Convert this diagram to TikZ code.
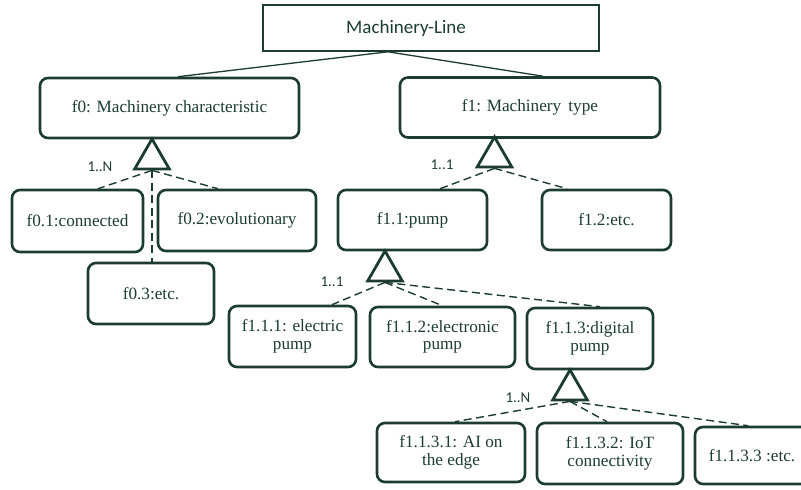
\documentclass[tikz,border=0pt]{standalone}
\usepackage{fontspec}
\setmainfont{Liberation Serif}
\newfontfamily\calfont{Carlito}
\usetikzlibrary{shapes.geometric}
\definecolor{dkgreen}{RGB}{28,60,50}
\begin{document}
\begin{tikzpicture}[x=1pt, y=-1pt,
   every node/.style={text=dkgreen},
   root/.style={draw=dkgreen, line width=1.6pt, minimum width=336pt, minimum height=46pt,
                font=\calfont\fontsize{19}{21}\selectfont},
   feat/.style={draw=dkgreen, line width=2.6pt, rounded corners=8pt, align=center,
                font=\fontsize{17.2}{17.5}\selectfont, minimum height=60pt, inner sep=0pt},
   gen/.style={draw=dkgreen, line width=2.8pt, regular polygon, regular polygon sides=3,
               minimum size=40pt, inner sep=0pt},
   card/.style={font=\calfont\fontsize{15}{17}\selectfont},
   link/.style={draw=dkgreen, line width=1.3pt},
   dline/.style={draw=dkgreen, line width=1.4pt, dash pattern=on 8pt off 4.5pt}]

\useasboundingbox (0,0) rectangle (801,490);

% root and first level
\node[root] (ml) at (431,28) {Machinery-Line\hspace*{50pt}};
\node[feat, minimum width=259pt] (f0) at (169.5,108) {f0: Machinery characteristic};
\node[feat, minimum width=260pt] (f1) at (530,107.5) {f1: Machinery\, type};

\draw[link] ([xshift=-43pt]ml.south) -- ([xshift=8.5pt]f0.north);
\draw[link] ([xshift=-43pt]ml.south) -- ([xshift=13pt]f1.north);

% f0 children
\node[gen] (t0) at (152,159) {};
\node[card] (c0) at (100,167) {1..N};
\node[feat, minimum width=131pt, minimum height=62pt] (f01) at (77.5,221) {f0.1:connected};
\node[feat, minimum width=158pt, minimum height=61pt] (f02) at (237,220.5) {f0.2:evolutionary};
\node[feat, minimum width=126pt, minimum height=61pt] (f03) at (151,293.5) {f0.3:etc.};

\draw[dline] (t0.south) -- ([xshift=20.5pt]f01.north);
\draw[dline] (t0.south) -- ([xshift=-19pt]f02.north);
\draw[dline] (t0.south) -- ([xshift=1pt]f03.north);

% f1 children
\node[gen] (t1) at (494.5,157) {};
\node[card] (c1) at (442,165) {1..1};
\node[feat, minimum width=149pt] (f11) at (412.5,220) {f1.1:pump};
\node[feat, minimum width=129pt] (f12) at (606.5,220) {f1.2:etc.};

\draw[dline] (t1.south) -- ([xshift=27.5pt]f11.north);
\draw[dline] (t1.south) -- ([xshift=-39.5pt]f12.north);

% f1.1 children
\node[gen] (t11) at (385,271) {};
\node[card] (c11) at (332,282) {1..1};
\node[feat, minimum width=127pt, minimum height=61pt] (f111) at (292.5,336.5) {f1.1.1: electric\\pump};
\node[feat, minimum width=145pt] (f112) at (442.5,337) {f1.1.2:electronic\\pump};
\node[feat, minimum width=126pt, minimum height=61pt] (f113) at (590,338.5) {f1.1.3:digital\\pump};

\draw[dline] (t11.south) -- ([xshift=39.5pt]f111.north);
\draw[dline] (t11.south) -- (f112.north);
\draw[dline] (t11.south) -- ([xshift=10pt]f113.north);

% f1.1.3 children
\node[gen] (t113) at (570,390) {};
\node[card] (c113) at (518,398) {1..N};
\node[feat, minimum width=148pt, minimum height=59pt] (f1131) at (451,452.5) {f1.1.3.1: AI on\\the edge};
\node[feat, minimum width=146pt, minimum height=61pt] (f1132) at (610,453.5) {f1.1.3.2: IoT\\connectivity};
\node[feat, minimum width=114pt, minimum height=57pt] (f1133) at (752,455.5) {f1.1.3.3 :etc.};

\draw[dline] (t113.south) -- ([xshift=4pt]f1131.north);
\draw[dline] (t113.south) -- ([xshift=-3pt]f1132.north);
\draw[dline] (t113.south) -- ([xshift=-4pt]f1133.north);

\end{tikzpicture}
\end{document}
